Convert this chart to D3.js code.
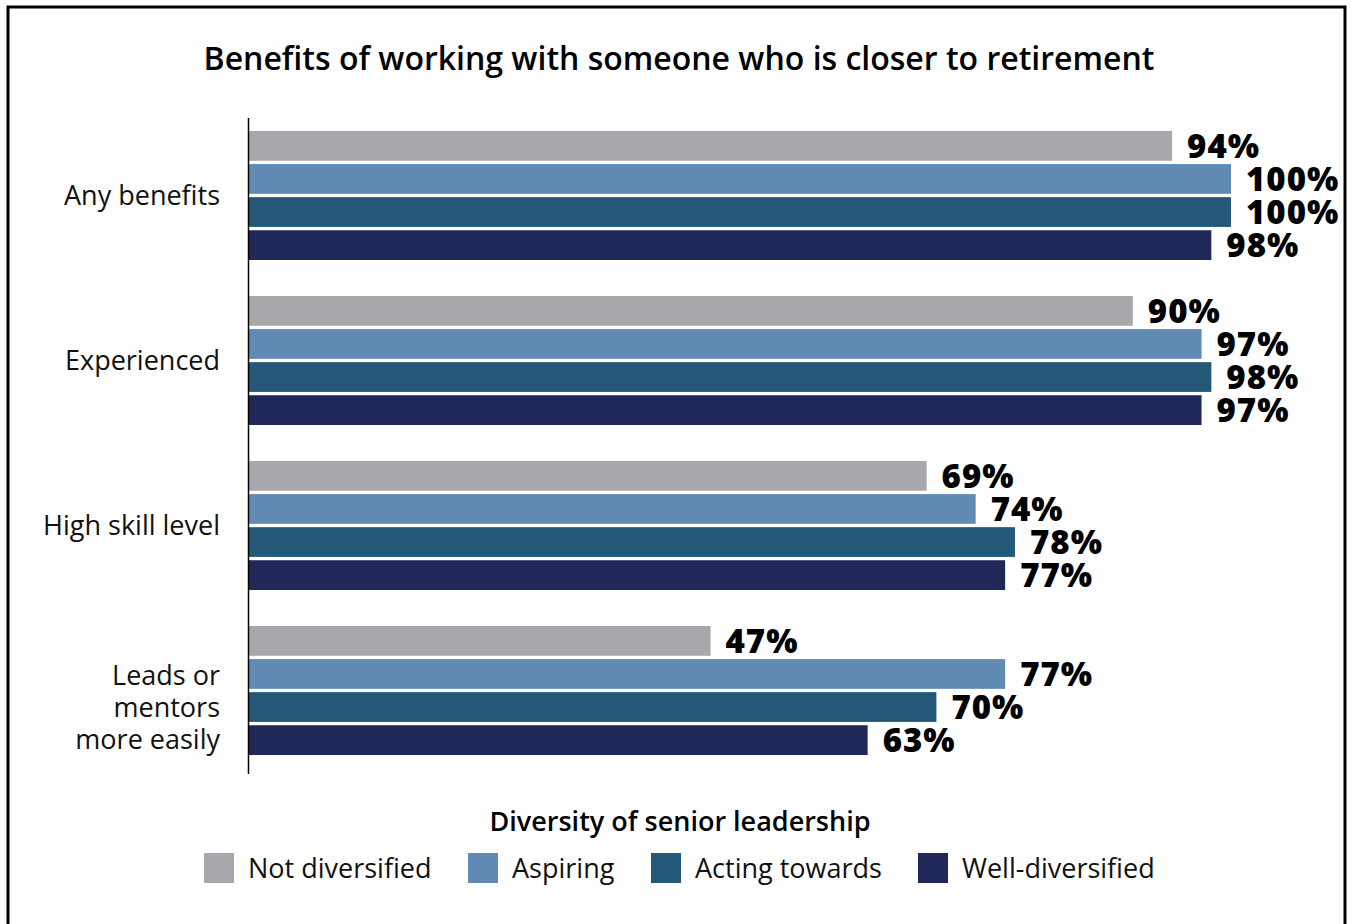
<!DOCTYPE html>
<html>
<head>
<meta charset="utf-8">
<script src="https://cdn.jsdelivr.net/npm/d3@7"></script>
<style>
  html, body { margin: 0; padding: 0; background: #fff; }
  svg { display: block; font-family: "Open Sans", sans-serif; }
</style>
</head>
<body>
<svg id="chart" width="1353" height="924"></svg>
<script>
// Survey categories (top to bottom)
const categories = ["Any benefits", "Experienced", "High skill level", "Leads or mentors more easily"];
const categoryLines = [["Any benefits"], ["Experienced"], ["High skill level"], ["Leads or", "mentors", "more easily"]];

// Series: diversity of senior leadership
const seriesNames = ["Not diversified", "Aspiring", "Acting towards", "Well-diversified"];
const seriesColors = ["#a7a8ac", "#618bb4", "#245878", "#20285a"];

// Percentage values per series, in category order
const notDiversified = [94, 90, 69, 47];
const aspiring = [100, 97, 74, 77];
const actingTowards = [100, 98, 78, 70];
const wellDiversified = [98, 97, 77, 63];
const seriesValues = [notDiversified, aspiring, actingTowards, wellDiversified];

const svg = d3.select("#chart");

// outer frame
svg.append("rect")
  .attr("x", 8).attr("y", 7).attr("width", 1337).attr("height", 940)
  .attr("fill", "none").attr("stroke", "#000").attr("stroke-width", 3);

// title
svg.append("text")
  .attr("x", 679).attr("y", 70)
  .attr("text-anchor", "middle")
  .attr("font-size", 32).attr("font-weight", 600)
  .attr("fill", "#000")
  .text("Benefits of working with someone who is closer to retirement");

const x = d3.scaleLinear().domain([0, 100]).range([249, 1231]);
const y0 = d3.scaleBand().domain(categories).range([113, 773]).paddingInner(0);
const groupH = 129;
const y1 = d3.scaleBand().domain(seriesNames).range([0, groupH]).paddingInner(0.1);
const groupOffset = (y0.bandwidth() - groupH) / 2;

const rows = [];
categories.forEach((c, ci) => {
  seriesNames.forEach((s, si) => {
    rows.push({ cat: c, ci, series: s, si, value: seriesValues[si][ci] });
  });
});

const g = svg.append("g");

g.selectAll("rect.bar").data(rows).join("rect")
  .attr("class", "bar")
  .attr("x", x(0))
  .attr("y", d => y0(d.cat) + groupOffset + y1(d.series))
  .attr("width", d => x(d.value) - x(0))
  .attr("height", y1.bandwidth())
  .attr("fill", d => seriesColors[d.si]);

g.selectAll("text.val").data(rows).join("text")
  .attr("class", "val")
  .attr("x", d => x(d.value) + 15)
  .attr("y", d => y0(d.cat) + groupOffset + y1(d.series) + y1.bandwidth() / 2)
  .attr("dy", "0.36em")
  .attr("font-size", 33).attr("font-weight", 800)
  .attr("letter-spacing", 1)
  .attr("fill", "#000")
  .text(d => d.value + "%");

// vertical axis line
svg.append("line")
  .attr("x1", 248.5).attr("x2", 248.5)
  .attr("y1", 118).attr("y2", 774)
  .attr("stroke", "#000").attr("stroke-width", 1.5);

// category labels
const lineH = 32;
categories.forEach((c, ci) => {
  const lines = categoryLines[ci];
  const cy = y0(c) + y0.bandwidth() / 2 + (lines.length > 1 ? 17 : 0);
  const t = svg.append("text")
    .attr("text-anchor", "end")
    .attr("font-size", 27)
    .attr("fill", "#111");
  lines.forEach((ln, li) => {
    t.append("tspan")
      .attr("x", 220)
      .attr("y", cy + (li - (lines.length - 1) / 2) * lineH)
      .attr("dy", "0.36em")
      .text(ln);
  });
});

// legend
svg.append("text")
  .attr("x", 680).attr("y", 821).attr("dy", "0.36em")
  .attr("text-anchor", "middle")
  .attr("font-size", 27).attr("font-weight", 600)
  .attr("fill", "#000")
  .text("Diversity of senior leadership");

const legendX = [204, 468, 651, 918];
const lg = svg.append("g");
seriesNames.forEach((s, si) => {
  lg.append("rect")
    .attr("x", legendX[si]).attr("y", 853)
    .attr("width", 30).attr("height", 30)
    .attr("fill", seriesColors[si]);
  lg.append("text")
    .attr("x", legendX[si] + 44).attr("y", 868).attr("dy", "0.36em")
    .attr("font-size", 27)
    .attr("fill", "#111")
    .text(s);
});
</script>
</body>
</html>
